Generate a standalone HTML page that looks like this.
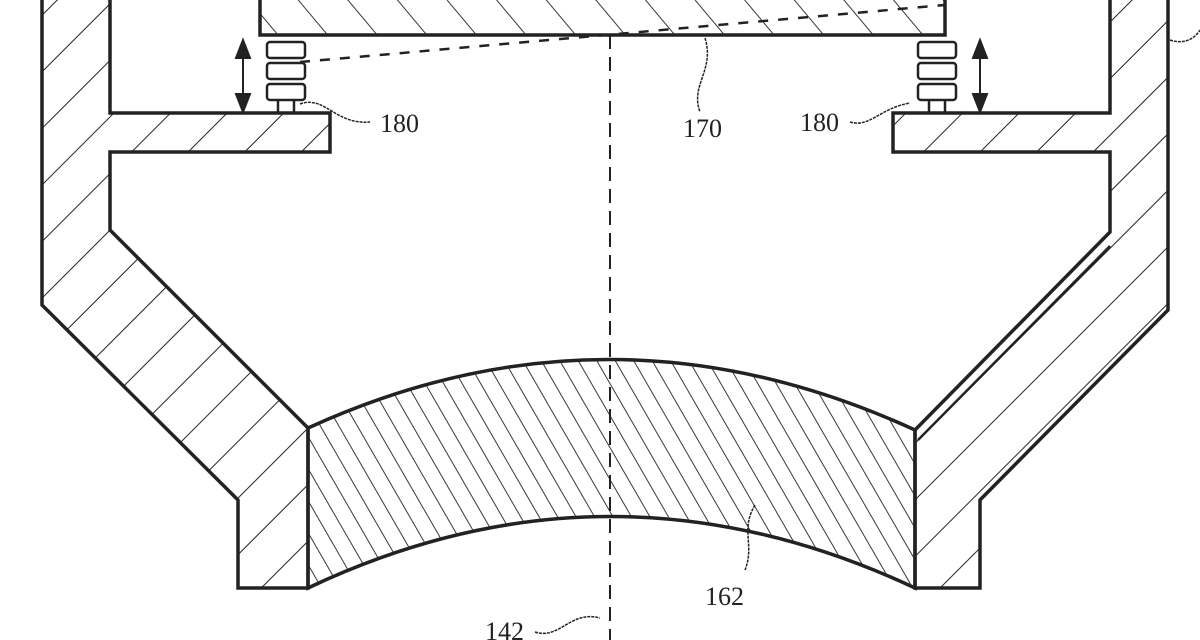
<!DOCTYPE html>
<html><head><style>
html,body{margin:0;padding:0;background:#fff;width:1200px;height:640px;overflow:hidden}
text{font-family:"Liberation Serif",serif;font-size:26px;fill:#222}
</style></head><body>
<svg width="1200" height="640" viewBox="0 0 1200 640" xmlns="http://www.w3.org/2000/svg">
<defs>
<pattern id="hw" patternUnits="userSpaceOnUse" width="40" height="40" patternTransform="rotate(45)">
<line x1="0" y1="0" x2="0" y2="40" stroke="#222" stroke-width="2"/></pattern>
<pattern id="hl" patternUnits="userSpaceOnUse" width="16" height="16" patternTransform="rotate(-30)">
<line x1="0" y1="0" x2="0" y2="16" stroke="#222" stroke-width="1.8"/></pattern>
<pattern id="ht" patternUnits="userSpaceOnUse" width="38" height="38" patternTransform="rotate(-40)">
<line x1="0" y1="0" x2="0" y2="38" stroke="#222" stroke-width="1.8"/></pattern>
</defs>
<g stroke="#222" stroke-width="3.5" stroke-linejoin="miter">
<path d="M42,0 L42,305 L238,500 L238,588 L308,588 L308,428 L110,230 L110,152 L330,152 L330,113 L110,113 L110,0" fill="url(#hw)"/>
<path d="M1168,0 L1168,310 L980,500 L980,588 L915,588 L915,430 L1110,232 L1110,152 L893,152 L893,113 L1110,113 L1110,0" fill="url(#hw)"/>
<path d="M1110,246 L918,440" stroke-width="2.5" fill="none"/>
<path d="M308,428 Q610,290 915,430 L915,588 Q610,445 308,588 Z" fill="url(#hl)"/>
<path d="M260,0 L260,35 L945,35 L945,0" fill="url(#ht)"/>
</g>
<line x1="300" y1="62" x2="945" y2="5" stroke="#222" stroke-width="2.5" stroke-dasharray="10,10"/>
<line x1="610" y1="35" x2="610" y2="640" stroke="#222" stroke-width="2" stroke-dasharray="14,8"/>
<g stroke="#222" stroke-width="2.5" fill="#fff">
<rect x="267" y="42" width="38" height="16" rx="3"/><rect x="267" y="63" width="38" height="16" rx="3"/><rect x="267" y="84" width="38" height="16" rx="3"/>
<line x1="278" y1="100" x2="278" y2="113"/><line x1="294" y1="100" x2="294" y2="113"/>
<rect x="918" y="42" width="38" height="16" rx="3"/><rect x="918" y="63" width="38" height="16" rx="3"/><rect x="918" y="84" width="38" height="16" rx="3"/>
<line x1="929" y1="100" x2="929" y2="113"/><line x1="945" y1="100" x2="945" y2="113"/>
</g>
<g stroke="#222" stroke-width="2" fill="#222">
<line x1="243" y1="50" x2="243" y2="102"/><path d="M236,58 L243,40 L250,58Z"/><path d="M236,94 L243,112 L250,94Z"/>
<line x1="980" y1="50" x2="980" y2="102"/><path d="M973,58 L980,40 L987,58Z"/><path d="M973,94 L980,112 L987,94Z"/>
</g>
<g stroke="#222" stroke-width="1.5" fill="none" stroke-dasharray="3,1">
<path d="M300,104 C325,95 335,125 370,122"/>
<path d="M705,38 C715,70 690,85 700,112"/>
<path d="M850,122 C870,128 880,108 910,103"/>
<path d="M755,505 C740,530 755,545 745,570"/>
<path d="M535,632 C560,640 570,610 600,618"/>
<path d="M1170,40 C1185,45 1195,38 1200,30"/>
</g>
<text x="380" y="132">180</text>
<text x="683" y="137">170</text>
<text x="800" y="131">180</text>
<text x="705" y="605">162</text>
<text x="485" y="640">142</text>
</svg>
</body></html>
